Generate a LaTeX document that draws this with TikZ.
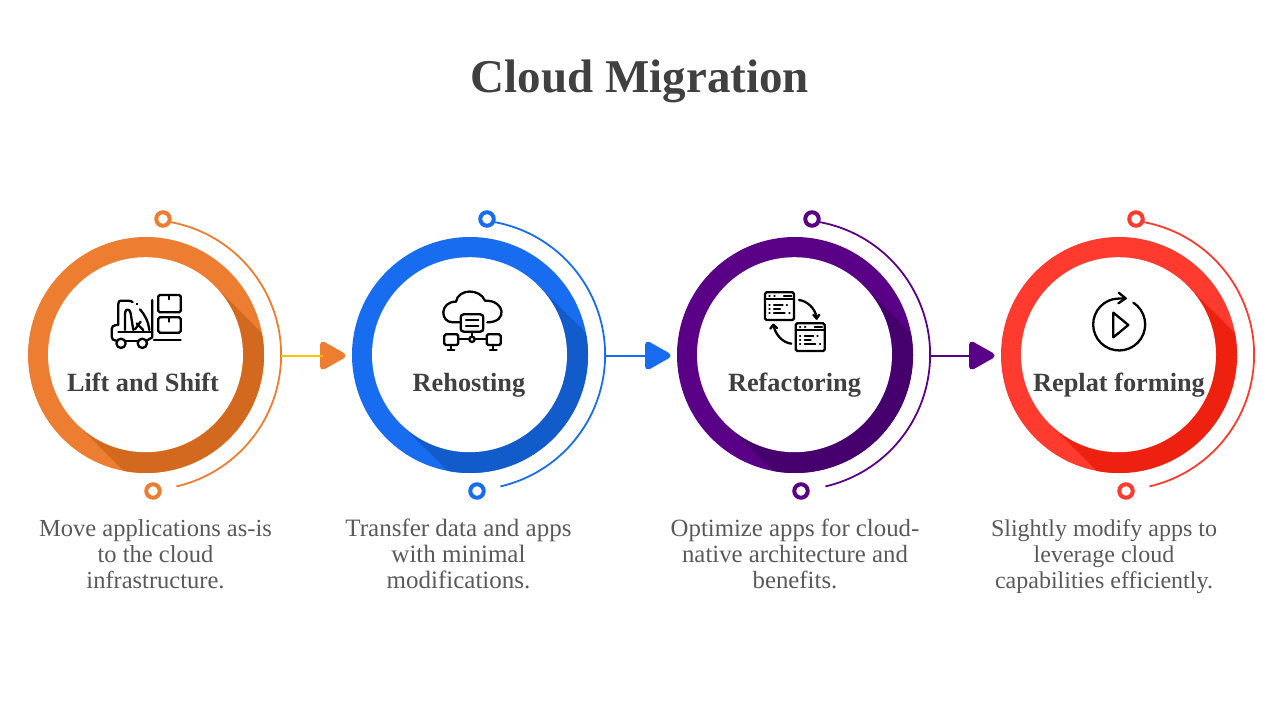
\documentclass[tikz,border=0pt]{standalone}
\usepackage{fontspec}
\setmainfont{Liberation Serif}
\usetikzlibrary{shapes.geometric,calc}
\definecolor{oa}{HTML}{ED7D31}\definecolor{ob}{HTML}{D2691E}
\definecolor{ba}{HTML}{186CF0}\definecolor{bb}{HTML}{115BCB}
\definecolor{pa}{HTML}{5A0087}\definecolor{pb}{HTML}{46006E}
\definecolor{ra}{HTML}{FF3B30}\definecolor{rb}{HTML}{EE2010}
\definecolor{ya}{HTML}{FFC000}
\definecolor{headc}{HTML}{404040}\definecolor{bodyc}{HTML}{595959}
\tikzset{
 x=1pt,y=-1pt,
 dotnode/.style={circle,draw=#1,fill=white,line width=4pt,minimum size=13.5pt,inner sep=0pt},
 arcline/.style={draw=#1,line width=1.8pt},
 linkline/.style={draw=#1,line width=2pt},
 tipnode/.style={isosceles triangle,isosceles triangle apex angle=64,isosceles triangle stretches,fill=#1,draw=#1,line width=6pt,line join=round,minimum width=22pt,minimum height=19.5pt,inner sep=0pt,outer sep=0pt,anchor=lower side},
 labeltext/.style={text=headc,font=\fontsize{26.3}{30}\selectfont\bfseries,inner sep=0pt,anchor=base},
 desc/.style={text=bodyc,font=\fontsize{#1}{25.6}\selectfont,align=center,inner sep=0pt,anchor=north},
 icon/.style={line width=2.3pt,line cap=round,line join=round,black},
 iconbox/.style={line width=2.3pt,rounded corners=1.5pt,black},
}
\newcommand{\topstrut}{\rule{0pt}{18pt}}
% #1 name, #2 cx, #3 main, #4 dark, #5 top-dot x, #6 bottom-dot x
\newcommand{\ringset}[6]{
 \coordinate (#1) at (#2,355);
 \coordinate (#1i) at (#2-.5,354.7);
 \fill[#3] (#1) circle[radius=118pt];
 \begin{scope}
  \clip (#1) circle[radius=118pt];
  \fill[#4] ($(#1i)+(69,-69)$) -- ($(#1i)+(169,31)$) -- ($(#1i)+(31,169)$) -- ($(#1i)+(-69,69)$) -- cycle;
 \end{scope}
 \fill[white] (#1i) circle[radius=97.5pt];
 \node[dotnode=#3] (#1top) at (#5,219) {};
 \node[dotnode=#3] (#1bot) at (#6,491) {};
 \coordinate (#1s) at (#2+24,222);
 \coordinate (#1e) at (#2+30.4,487);
 \coordinate (#1o) at (#2+135,355.6);
 \draw[arcline=#3] (#1s) arc[start angle=79.8,end angle=-77,radius=135pt];
}
\newcommand{\winicon}{
 \draw[iconbox] (45,37) rectangle (132,120);
 \draw[icon] (45,58)--(132,58);
 \draw[icon] (58,47)--(59,47) (73,47)--(74,47) (102,47)--(124,47);
 \draw[icon] (58,75)--(59,75) (72,75)--(98,75) (110,75)--(111,75);
 \draw[icon] (58,87)--(59,87) (72,87)--(90,87);
 \draw[icon] (58,100)--(59,100) (72,100)--(104,100) (118,100)--(119,100);
}
\begin{document}
\begin{tikzpicture}
\useasboundingbox (0,0) rectangle (1280,720);
\node[text=headc,font=\fontsize{47}{50}\selectfont\bfseries,inner sep=0pt,anchor=base] (title) at (640,92) {Cloud Migration};

\ringset{A}{146}{oa}{ob}{163}{153}
\ringset{B}{470}{ba}{bb}{487}{477}
\ringset{C}{795}{pa}{pb}{812}{801}
\ringset{D}{1119}{ra}{rb}{1136}{1126}

\node[tipnode=oa] (tipA) at (323,355.6) {};
\node[tipnode=ba] (tipB) at (648,355.6) {};
\node[tipnode=pa] (tipC) at (972,355.6) {};
\draw[linkline=ya] (Ao) -- (tipA.lower side);
\draw[linkline=ba] (Bo) -- (tipB.lower side);
\draw[linkline=pa] (Co) -- (tipC.lower side);

\node[labeltext] (lA) at (143,391) {Lift and Shift};
\node[labeltext] (lB) at (469,391) {Rehosting};
\node[labeltext] (lC) at (794.5,391) {Refactoring};
\node[labeltext] (lD) at (1119,391) {Replat forming};

\node[desc=24.5] (dA) at (155.5,518.7) {\topstrut Move applications as-is\\to the cloud\\infrastructure.};
\node[desc=25] (dB) at (458.5,518.7) {\topstrut Transfer data and apps\\with minimal\\modifications.};
\node[desc=24.8] (dC) at (795,518.7) {\topstrut Optimize apps for cloud-\\native architecture and\\benefits.};
\node[desc=24] (dD) at (1104,518.7) {\topstrut Slightly modify apps to\\leverage cloud\\capabilities efficiently.};

% forklift
\begin{scope}[shift={(90,280)},x=.3333pt,y=-.3333pt]
 \draw[iconbox] (205,45) rectangle (272,97);
 \draw[iconbox] (205,112) rectangle (272,158);
 \draw[icon] (238,47)--(238,58) (238,114)--(238,125);
 \draw[icon] (187,60)--(187,172) -- (170,182);
 \draw[icon] (192,180)--(272,180);
 \draw[icon] (85,135)--(85,72) .. controls (85,65) and (88,62) .. (92,62) -- (112,62) .. controls (118,62) and (124,63) .. (128,66);
 \draw[icon] (141,72)--(141.5,72.5);
 \draw[icon] (150,88) .. controls (165,105) and (175,125) .. (178,150);
 \draw[icon] (105,150)--(105,100) .. controls (105,85) and (120,85) .. (122,100) -- (130,150);
 \draw[icon] (135,148)--(152,125) (140,130)--(160,150);
 \draw[icon] (78,182) .. controls (70,182) and (65,177) .. (65,170) -- (65,148) .. controls (65,140) and (70,135) .. (78,135) -- (85,135);
 \draw[icon] (85,155)--(187,155);
 \draw[icon] (107,182)--(143,182);
 \draw[icon] (93,190) circle[radius=14];
 \draw[icon] (157,190) circle[radius=14];
\end{scope}
% cloud network
\begin{scope}[shift={(430,280)},x=.3333pt,y=-.3333pt]
 \draw[icon] (88,127) -- (68,127) .. controls (30,127) and (28,65) .. (78,65) .. controls (85,25) and (150,25) .. (165,62) .. controls (225,60) and (235,127) .. (172,127);
 \draw[iconbox,rounded corners=3pt] (92,103) rectangle (160,155);
 \draw[icon] (108,120)--(145,120) (108,137)--(145,137);
 \draw[icon] (126,155)--(126,170);
 \draw[icon] (126,178) circle[radius=8];
 \draw[icon] (85,178)--(118,178) (134,178)--(170,178);
 \draw[iconbox] (43,163) rectangle (85,195);
 \draw[iconbox] (170,163) rectangle (212,195);
 \draw[icon] (63,195)--(63,207) (53,209)--(73,209) (190,195)--(190,207) (180,209)--(200,209);
\end{scope}
% refactor windows
\begin{scope}[shift={(750,280)},x=.3333pt,y=-.3333pt]
 \winicon
 \begin{scope}[shift={(92,93)}]\winicon\end{scope}
 \draw[icon] (147,60) .. controls (172,63) and (195,85) .. (200,112);
 \draw[icon] (190,104)--(200,116)--(208,104);
 \draw[icon] (124,191) .. controls (98,188) and (77,165) .. (71,138);
 \draw[icon] (61,146)--(70,134)--(81,144);
\end{scope}
% replatform
\begin{scope}[shift={(1080,280)},x=.3333pt,y=-.3333pt]
 \draw[icon] (160,68) arc[start angle=57,end angle=-255,radius=26pt] .. controls (110,56) and (122,55) .. (137,55);
 \draw[icon] (116,38)--(137,55)--(115,70);
 \draw[icon] (100,98)--(145,135)--(100,172)--cycle;
\end{scope}
\end{tikzpicture}
\end{document}
